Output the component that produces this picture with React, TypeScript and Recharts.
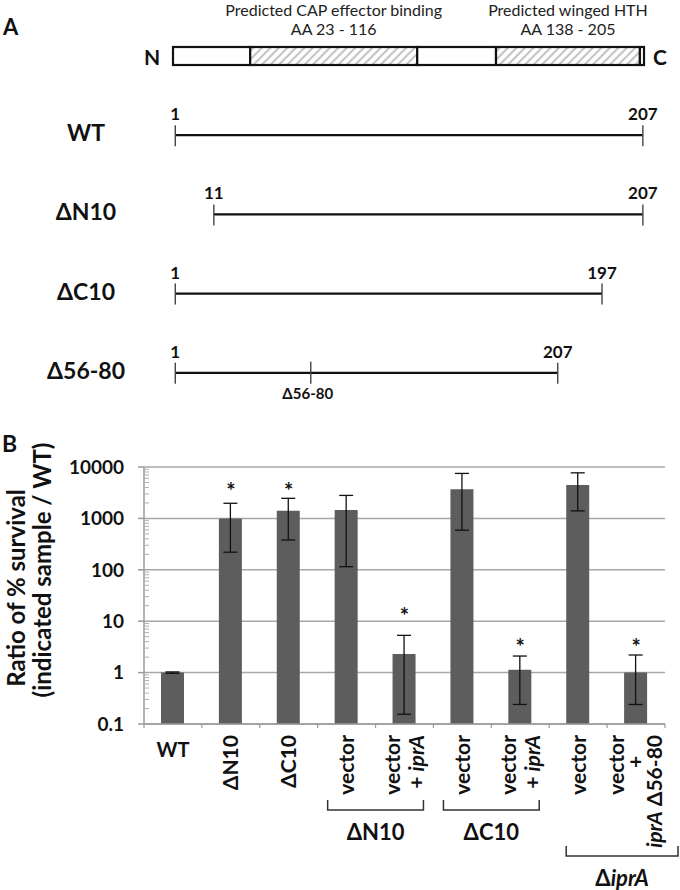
import React from 'react';
import {
  BarChart,
  Bar,
  XAxis,
  YAxis,
  ComposedChart,
  ErrorBar,
  CartesianGrid,
  Scatter,
} from 'recharts';

const FONT = 'Lato, "Open Sans", sans-serif';
const INK = '#111';
const AXIS = '#9a9a9a';

// ---- panel A: construct map (schematic, drawn not to scale)
const constructNames = ['WT', 'ΔN10', 'ΔC10', 'Δ56-80'];
const firstResidue = [1, 11, 1, 1];
const lastResidue = [207, 207, 197, 207];
// where each line starts / ends on the drawing's own axis
const drawnStart = [1, 18, 1, 1];
const drawnEnd = [207, 207, 189, 169.5];
const deletionAt = [null, null, null, 60.7];
const deletionName = ['', '', '', 'Δ56-80'];

const domainNames = ['Predicted CAP effector binding', 'Predicted winged HTH'];
const domainRanges = ['AA 23 - 116', 'AA 138 - 205'];
const boxEdges = [0, 34, 107.6, 142.3, 205.7, 207.5];
const boxHatched = [false, true, false, true, false];

// ---- panel B: survival ratio
const strainKeys = [
  'WT', 'ΔN10', 'ΔC10',
  'ΔN10 vector', 'ΔN10 vector + iprA',
  'ΔC10 vector', 'ΔC10 vector + iprA',
  'ΔiprA vector', 'ΔiprA vector + iprA Δ56-80',
];
const xLabelLines = [
  ['WT'], ['ΔN10'], ['ΔC10'],
  ['vector'], ['vector', '+ _iprA_'],
  ['vector'], ['vector', '+ _iprA_'],
  ['vector'], ['vector', '+', '_iprA_ Δ56-80'],
];
const ratio = [1, 990, 1410, 1450, 2.3, 3700, 1.14, 4450, 1.0];
const ratioUpper = [1.03, 1970, 2460, 2800, 5.3, 7500, 2.1, 7700, 2.2];
const ratioLower = [0.97, 220, 380, 115, 0.155, 590, 0.24, 1400, 0.24];
const starLevel = [null, 4140, 4140, null, 14.8, null, 3.8, null, 3.8];
const yTicks = [0.1, 1, 10, 100, 1000, 10000];

const groupNames = ['ΔN10', 'ΔC10', 'Δ_iprA_'];
const groupFirst = [3, 5, 7];
const groupLast = [4, 6, 8];

const minorTicks = yTicks.slice(0, -1).flatMap((d) => [2, 3, 4, 5, 6, 7, 8, 9].map((m) => d * m));

const mapRows = [
  { name: 'protein', kind: 'box', span: [boxEdges[0], boxEdges[boxEdges.length - 1]] },
  ...constructNames.map((name, i) => ({
    name,
    kind: 'line',
    span: [drawnStart[i], drawnEnd[i]],
    first: firstResidue[i],
    last: lastResidue[i],
    cut: deletionAt[i],
    cutName: deletionName[i],
  })),
];

const survivalData = strainKeys.map((key, i) => ({
  key,
  ratio: ratio[i],
  err: [ratio[i] - ratioLower[i], ratioUpper[i] - ratio[i]],
  star: starLevel[i],
}));

// "_word_" -> italic
function rich(s: string) {
  return s.split('_').map((part, i) => (
    <tspan key={i} fontStyle={i % 2 ? 'italic' : 'normal'}>{part}</tspan>
  ));
}

function MapShape(props: any) {
  const { x, y, width, height, payload } = props;
  const [s, e] = payload.span;
  const toX = (v: number) => x + ((v - s) / (e - s)) * width;
  const yc = y + height / 2;

  if (payload.kind === 'box') {
    return (
      <g fontFamily={FONT}>
        <defs>
          <pattern id="hatch" patternUnits="userSpaceOnUse" width={6} height={6} patternTransform="rotate(45)">
            <rect width={6} height={6} fill="#fff" />
            <line x1={3} y1={0} x2={3} y2={6} stroke="#c4c4c4" strokeWidth={2.2} />
          </pattern>
        </defs>
        {boxHatched.map((h, i) => {
          const a = toX(boxEdges[i]);
          const b = toX(boxEdges[i + 1]);
          return (
            <rect key={i} x={a} y={y + 1} width={b - a} height={height - 2}
              fill={h ? 'url(#hatch)' : '#fff'} stroke={INK} strokeWidth={2.2} />
          );
        })}
        {boxHatched.map((h, i) => {
          if (!h) return null;
          const k = boxHatched.slice(0, i).filter(Boolean).length;
          const cx = (toX(boxEdges[i]) + toX(boxEdges[i + 1])) / 2;
          return (
            <g key={'d' + i} fill="#222" fontSize={16} textAnchor="middle">
              <text x={cx} y={yc - 40}>{domainNames[k]}</text>
              <text x={cx} y={yc - 21}>{domainRanges[k]}</text>
            </g>
          );
        })}
        <text x={x - 21} y={yc + 9} textAnchor="middle" fontSize={21} fontWeight={700} fill={INK}>N</text>
        <text x={x + width + 16} y={yc + 9} textAnchor="middle" fontSize={21} fontWeight={700} fill={INK}>C</text>
      </g>
    );
  }

  const x0 = toX(s);
  const x1 = toX(e);
  return (
    <g fontFamily={FONT} fontWeight={700} fill={INK}>
      <text x={86} y={yc + 6} textAnchor="middle" fontSize={23}>{payload.name}</text>
      <line x1={x0} x2={x1} y1={yc} y2={yc} stroke={INK} strokeWidth={2.3} />
      <line x1={x0} x2={x0} y1={yc - 10} y2={yc + 11} stroke="#444" strokeWidth={1.4} />
      <line x1={x1} x2={x1} y1={yc - 10} y2={yc + 11} stroke="#444" strokeWidth={1.4} />
      <text x={x0} y={yc - 15} textAnchor="middle" fontSize={17}>{payload.first}</text>
      <text x={x1} y={yc - 15} textAnchor="middle" fontSize={17}>{payload.last}</text>
      {payload.cut != null && (
        <g>
          <line x1={toX(payload.cut)} x2={toX(payload.cut)} y1={yc - 11} y2={yc + 11} stroke="#444" strokeWidth={1.4} />
          <text x={toX(payload.cut) - 3} y={yc + 26} textAnchor="middle" fontSize={15}>{payload.cutName}</text>
        </g>
      )}
    </g>
  );
}

function StrainTick(props: any) {
  const { x, y, payload, index } = props;
  const half = payload && payload.offset > 1 ? payload.offset : 28.95;
  const lines = xLabelLines[index] || [];
  const gap = lines.length === 3 ? 19 : 24;
  const g = groupLast.indexOf(index);
  let bracket = null;
  if (g >= 0) {
    const outer = g === groupLast.length - 1;
    const span = groupLast[g] - groupFirst[g] + 1;
    const left = x + half - span * 2 * half + (outer ? 17 : 10);
    const right = x + half - (outer ? -13 : 10);
    const top = y + (outer ? 122 : 76);
    const bottom = top + 10;
    bracket = (
      <g>
        <path d={`M${left},${top} L${left},${bottom} L${right},${bottom} L${right},${top}`}
          fill="none" stroke="#333" strokeWidth={1.5} />
        <text x={(left + right) / 2} y={bottom + 30} textAnchor="middle" fontSize={22}>
          {rich(groupNames[g])}
        </text>
      </g>
    );
  }
  return (
    <g fontFamily={FONT} fontWeight={700} fill={INK}>
      <line x1={x - half} x2={x - half} y1={y} y2={y + 4} stroke={AXIS} strokeWidth={1.2} />
      {index === strainKeys.length - 1 && (
        <line x1={x + half} x2={x + half} y1={y} y2={y + 4} stroke={AXIS} strokeWidth={1.2} />
      )}
      {lines.length === 1 && lines[0].length <= 2 ? (
        <text x={x} y={y + 33} textAnchor="middle" fontSize={20}>{lines[0]}</text>
      ) : (
        lines.map((ln, i) => {
          const cx = x + (i - (lines.length - 1) / 2) * gap;
          const alone = ln === '+';
          return (
            <text key={i} transform={`translate(${cx},${y + (alone ? 38 : 11)}) rotate(-90)`}
              textAnchor={alone ? 'middle' : 'end'} dy="0.35em" fontSize={21}>
              {rich(ln)}
            </text>
          );
        })
      )}
      {bracket}
    </g>
  );
}

// minor log ticks, drawn inward from the value axis
function MinorTick(props: any) {
  const { x, y } = props;
  return <line x1={x} x2={x + 5} y1={y} y2={y} stroke="#b0b0b0" strokeWidth={1} />;
}

function StarShape(props: any) {
  const { cx, cy, payload } = props;
  if (!payload || payload.star == null || !isFinite(cy)) return <g />;
  return (
    <text x={cx} y={cy + 12} textAnchor="middle" fontSize={22} fontWeight={700} fill={INK} fontFamily={FONT}>*</text>
  );
}

export default function App() {
  return (
    <div style={{ position: 'absolute', left: 0, top: 0, width: 680, height: 890, background: '#fff', fontFamily: FONT }}>
      <div style={{ position: 'absolute', left: 0, top: 0 }}>
        <BarChart layout="vertical" width={680} height={412} data={mapRows}
          margin={{ top: 16, right: 36, bottom: 0, left: 173 }}>
          <XAxis type="number" domain={[0, 207.5]} hide />
          <YAxis type="category" dataKey="name" hide />
          <Bar dataKey="span" barSize={20} shape={MapShape} isAnimationActive={false} />
        </BarChart>
      </div>

      <div style={{ position: 'absolute', left: 0, top: 400 }}>
        <ComposedChart width={680} height={490} data={survivalData}
          margin={{ top: 67, right: 15, bottom: 0, left: 84 }}>
          <CartesianGrid vertical={false} stroke="#a8a8a8" strokeWidth={1.5} />
          <XAxis dataKey="key" interval={0} height={166} tickLine={false} tickSize={0} tickMargin={0}
            axisLine={{ stroke: AXIS, strokeWidth: 1.5 }} tick={<StrainTick />} />
          <YAxis yAxisId="minor" scale="log" domain={[0.1, 10000]} ticks={minorTicks} interval={0}
            allowDataOverflow mirror axisLine={false} tickLine={false} tickSize={0} tickMargin={0}
            tick={<MinorTick />} />
          <YAxis scale="log" domain={[0.1, 10000]} ticks={yTicks} interval={0} allowDataOverflow
            width={60} tickSize={6} tickMargin={14}
            axisLine={{ stroke: AXIS, strokeWidth: 1.5 }} tickLine={{ stroke: AXIS, strokeWidth: 1.5 }}
            tick={{ fill: INK, fontSize: 19, fontWeight: 700, fontFamily: FONT }} />
          <Bar dataKey="ratio" fill="#5d5d5d" barSize={23} isAnimationActive={false}>
            <ErrorBar dataKey="err" width={7} stroke={INK} strokeWidth={1.3} direction="y" />
          </Bar>
          <Scatter dataKey="star" shape={StarShape} isAnimationActive={false} />
        </ComposedChart>
      </div>

      <svg width={680} height={890} style={{ position: 'absolute', left: 0, top: 0, pointerEvents: 'none' }}
        fontFamily={FONT} fontWeight={700} fill={INK}>
        <text x={3} y={35} fontSize={22}>A</text>
        <text x={2} y={452} fontSize={23}>B</text>
        <text transform="translate(17,588) rotate(-90)" textAnchor="middle" dy="0.35em" fontSize={24}>
          Ratio of % survival
        </text>
        <text transform="translate(43,570) rotate(-90)" textAnchor="middle" dy="0.35em" fontSize={24}>
          (indicated sample / WT)
        </text>
      </svg>
    </div>
  );
}
